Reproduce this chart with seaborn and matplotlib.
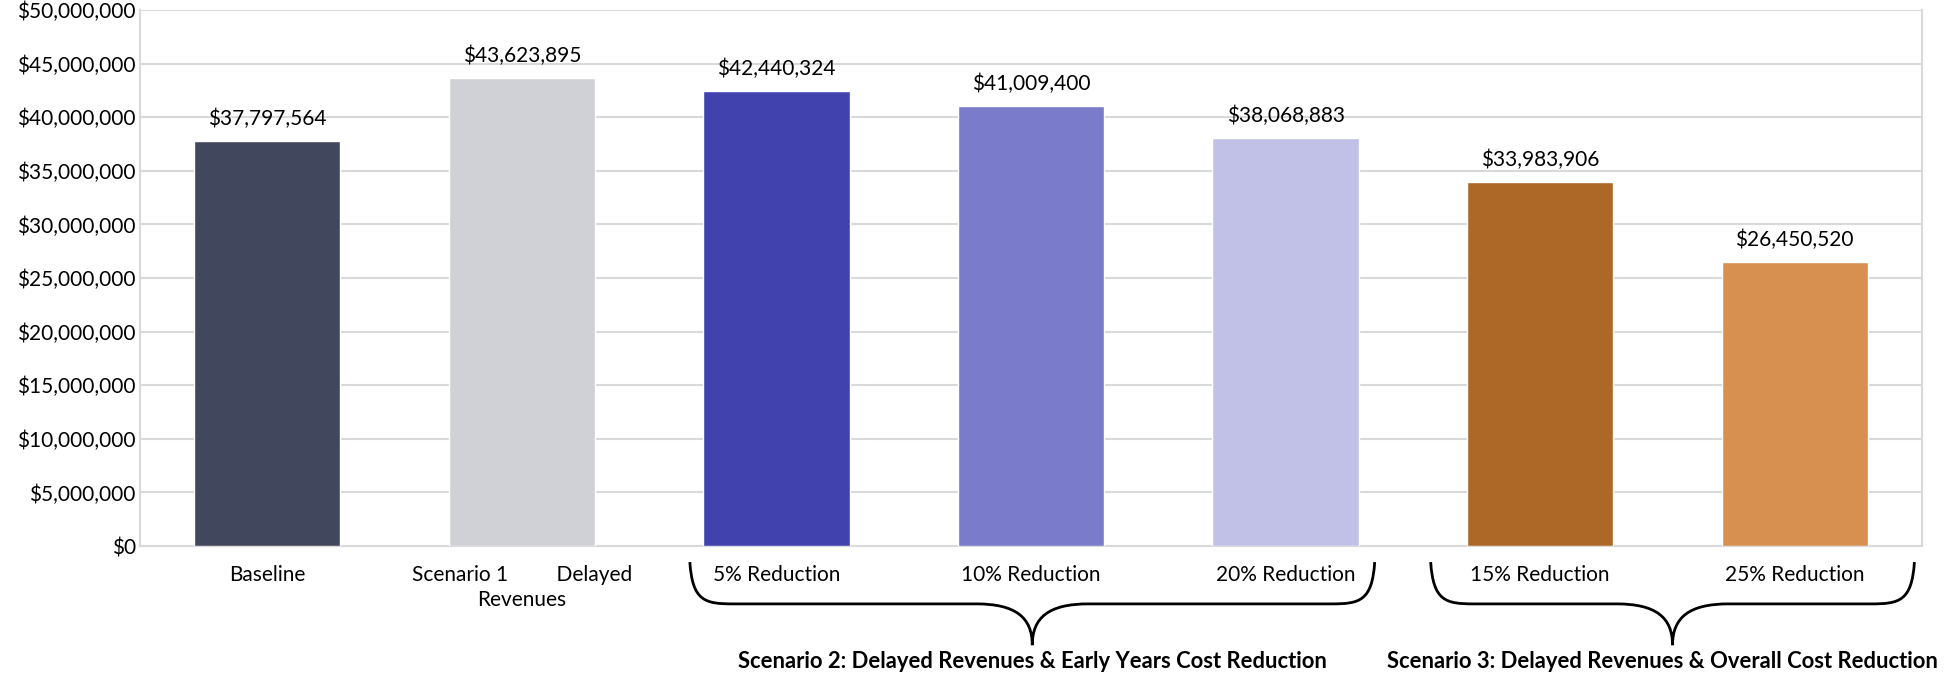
import matplotlib
matplotlib.use("Agg")
import matplotlib.pyplot as plt
import matplotlib.transforms as mtransforms
from matplotlib.path import Path
from matplotlib.patches import PathPatch
from matplotlib.ticker import FuncFormatter
import seaborn as sns
import pandas as pd

categories = ["Baseline", "Scenario 1         Delayed\nRevenues", "5% Reduction",
              "10% Reduction", "20% Reduction", "15% Reduction", "25% Reduction"]
values = [37797564, 43623895, 42440324, 41009400, 38068883, 33983906, 26450520]
colors = ["#41475C", "#D0D1D6", "#4242AE", "#7B7BCC", "#C1C1E8", "#AD6828", "#D89050"]
group_labels = ["Scenario 2: Delayed Revenues & Early Years Cost Reduction",
                "Scenario 3: Delayed Revenues & Overall Cost Reduction"]
group_members = [(2, 4), (5, 6)]
y_ticks = list(range(0, 50000001, 5000000))

sns.set_theme(style="white")
plt.rcParams["font.family"] = ["Lato", "DejaVu Sans"]

df = pd.DataFrame({"cat": categories, "val": values})

fig = plt.figure(figsize=(19.44, 6.75), dpi=100)
ax = fig.add_axes([0.072, 0.1911, 0.9167, 0.7941])

sns.barplot(data=df, x="cat", y="val", hue="cat", palette=colors, width=0.575,
            saturation=1, legend=False, ax=ax, zorder=3)

ax.set_xlim(-0.5, len(categories) - 0.5)
ax.set_ylim(0, 50000000)
ax.set_yticks(y_ticks)
ax.yaxis.set_major_formatter(FuncFormatter(lambda v, p: f"${int(v):,}"))
ax.grid(axis="y", color="#D9D9D9", linewidth=1.5, zorder=0)
ax.set_axisbelow(True)
ax.set_xlabel("")
ax.set_ylabel("")
for s in ["left", "right", "bottom"]:
    ax.spines[s].set_visible(True)
    ax.spines[s].set_color("#D9D9D9")
    ax.spines[s].set_linewidth(1.5)
ax.spines["top"].set_visible(False)
ax.tick_params(axis="both", length=0, labelsize=15, colors="black")
ax.tick_params(axis="y", pad=3)
ax.tick_params(axis="x", pad=14)
for lbl in ax.get_xticklabels():
    lbl.set_linespacing(1.3)
    lbl.set_verticalalignment("top")

for i, v in enumerate(values):
    ax.annotate(f"${v:,}", xy=(i, v), xytext=(0, 16), textcoords="offset points",
                ha="center", va="center", fontsize=15, color="black")

# Braces beneath grouped categories
trans = mtransforms.blended_transform_factory(ax.transData, ax.transAxes)
brace_ext = [(0.34, 0.35), (0.43, 0.47)]
text_shift = [0, -7]
y_top, y_mid, y_tip = -0.030, -0.108, -0.185
for (a, b), (el, er), dx, label in zip(group_members, brace_ext, text_shift, group_labels):
    x0 = a - el
    x1 = b + er
    xc = (x0 + x1) / 2
    r = 0.17
    c = 0.22
    verts = [
        (x0, y_top),
        (x0 + 0.01, y_mid + 0.005), (x0 + r * 0.35, y_mid), (x0 + r, y_mid),
        (xc - c, y_mid),
        (xc - c * 0.3, y_mid), (xc, y_mid - 0.025), (xc, y_tip),
        (xc, y_mid - 0.025), (xc + c * 0.3, y_mid), (xc + c, y_mid),
        (x1 - r, y_mid),
        (x1 - r * 0.35, y_mid), (x1 - 0.01, y_mid + 0.005), (x1, y_top),
    ]
    codes = [Path.MOVETO,
             Path.CURVE4, Path.CURVE4, Path.CURVE4,
             Path.LINETO,
             Path.CURVE4, Path.CURVE4, Path.CURVE4,
             Path.CURVE4, Path.CURVE4, Path.CURVE4,
             Path.LINETO,
             Path.CURVE4, Path.CURVE4, Path.CURVE4]
    patch = PathPatch(Path(verts, codes), transform=trans, fill=False,
                      edgecolor="black", linewidth=2, clip_on=False)
    ax.add_patch(patch)
    ax.annotate(label, xy=(xc, -0.215), xycoords=trans, xytext=(dx, 0),
                textcoords="offset points", ha="center", va="center",
                fontsize=15.8, fontweight="bold", color="black",
                annotation_clip=False)

fig.savefig("out.png", dpi=100)
